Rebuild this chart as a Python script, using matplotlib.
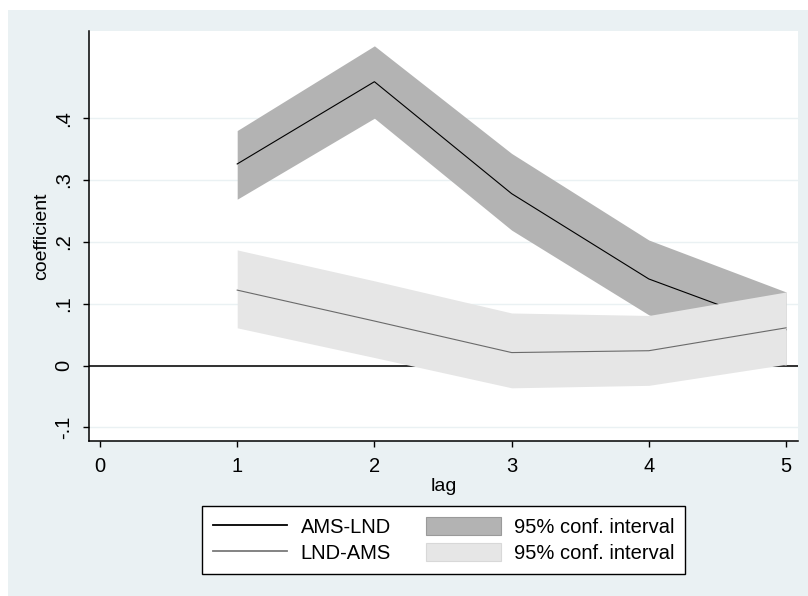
import matplotlib
matplotlib.use("Agg")
from matplotlib import pyplot as plt
from matplotlib.lines import Line2D
from matplotlib.patches import Patch, Rectangle

# data
lags = [1, 2, 3, 4, 5]
ams_lnd = [0.326, 0.459, 0.278, 0.140, 0.058]
ams_lnd_lo = [0.269, 0.400, 0.219, 0.082, 0.000]
ams_lnd_hi = [0.380, 0.517, 0.343, 0.203, 0.119]
lnd_ams = [0.122, 0.072, 0.021, 0.024, 0.061]
lnd_ams_lo = [0.061, 0.013, -0.036, -0.032, 0.002]
lnd_ams_hi = [0.187, 0.137, 0.085, 0.081, 0.119]

x_ticks = [0, 1, 2, 3, 4, 5]
y_ticks = [-0.1, 0, 0.1, 0.2, 0.3, 0.4]
y_tick_labels = ["-.1", "0", ".1", ".2", ".3", ".4"]

plt.rcParams["font.family"] = ["Liberation Sans", "DejaVu Sans"]

BG = "#eaf1f3"
DARK = "#b3b3b3"
LIGHT = "#e6e6e6"

fig = plt.figure(figsize=(8.08, 5.96), dpi=100)
fig.patch.set_facecolor("white")
# stata style outer region
fig.patches.append(Rectangle((8 / 808, 0), 1, 586 / 596, transform=fig.transFigure,
                             facecolor=BG, edgecolor="none", zorder=-10))

ax = fig.add_axes([89 / 808, 1 - 441 / 596, (798 - 89) / 808, (441 - 31) / 596])
ax.set_facecolor("white")

for v in y_ticks:
    ax.axhline(v, color=BG, lw=1.0, zorder=0)
ax.axhline(0, color="#303030", lw=1.4, zorder=1)

ax.fill_between(lags, ams_lnd_lo, ams_lnd_hi, color=DARK, lw=0, zorder=2)
ax.plot(lags, ams_lnd, color="black", lw=0.8, zorder=3)
ax.fill_between(lags, lnd_ams_lo, lnd_ams_hi, color=LIGHT, lw=0, zorder=4)
ax.plot(lags, lnd_ams, color="#6a6a6a", lw=0.8, zorder=5)

ax.set_xlim(-0.08, 5.087)
ax.set_ylim(-0.122, 0.541)
ax.set_xticks(x_ticks)
ax.set_yticks(y_ticks)
ax.set_yticklabels(y_tick_labels, rotation=90, va="center")

for s in ["top", "right"]:
    ax.spines[s].set_visible(False)
for s in ["left", "bottom"]:
    ax.spines[s].set_linewidth(1.1)
ax.tick_params(direction="out", length=4.5, width=1.0, labelsize=14.5)
ax.tick_params(axis="y", pad=7)
ax.tick_params(axis="x", pad=7)

ax.set_xlabel("lag", fontsize=14, labelpad=1.5)
ax.set_ylabel("coefficient", fontsize=14, labelpad=3)

handles = [
    Line2D([], [], color="black", lw=1.3),
    Line2D([], [], color="#7a7a7a", lw=1.3),
    Patch(facecolor=DARK, edgecolor="#9a9a9a", lw=0.8),
    Patch(facecolor=LIGHT, edgecolor="#d8d8d8", lw=0.8),
]
labels = ["AMS-LND", "LND-AMS", "95% conf. interval", "95% conf. interval"]
leg = fig.legend(handles, labels, ncol=2, loc="upper center",
                 bbox_to_anchor=(443.5 / 808, 1 - 506 / 596), fontsize=14.5,
                 frameon=True, fancybox=False, edgecolor="black", framealpha=1,
                 handlelength=3.7, handleheight=1.0, handletextpad=0.65,
                 columnspacing=1.75, labelspacing=0.3, borderpad=0.55,
                 borderaxespad=0)
leg.get_frame().set_linewidth(1.0)

fig.savefig("out.png", dpi=100, facecolor=fig.get_facecolor())
